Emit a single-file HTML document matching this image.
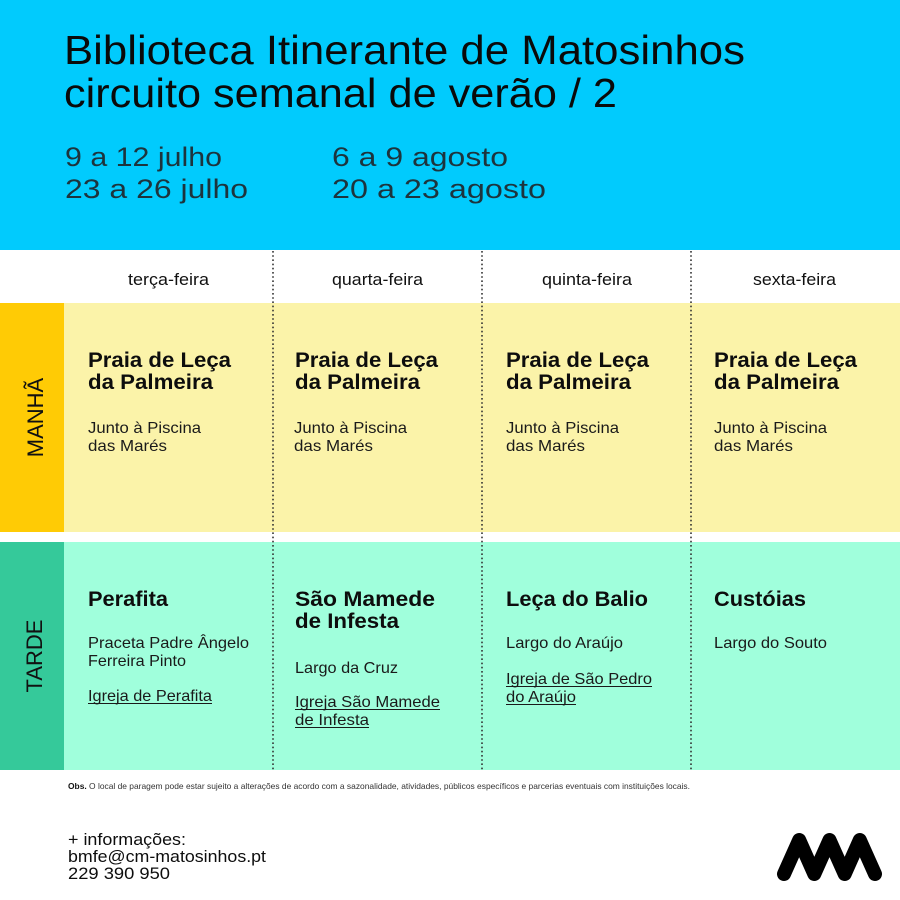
<!DOCTYPE html>
<html>
<head>
<meta charset="utf-8">
<style>
html,body{margin:0;padding:0;background:#fff;}
svg{display:block;}
text{font-family:"Liberation Sans",Arial,sans-serif;}
.t{font-size:40.5px;fill:#0a0a0a;}
.d{font-size:27px;fill:#1d343d;}
.day{font-size:17px;fill:#111;}
.h{font-size:21px;font-weight:bold;fill:#0d0d0d;}
.b{font-size:16px;fill:#1a1a1a;}
.side{font-size:22px;fill:#111;}
.c{font-size:17px;fill:#0d0d0d;}
</style>
</head>
<body>
<svg width="900" height="900" viewBox="0 0 900 900" xmlns="http://www.w3.org/2000/svg">
  <!-- backgrounds -->
  <rect x="0" y="0" width="900" height="250" fill="#01cbfd"/>
  <rect x="0" y="250" width="900" height="53" fill="#ffffff"/>
  <rect x="0" y="303" width="64" height="229" fill="#ffcb05"/>
  <rect x="64" y="303" width="836" height="229" fill="#fbf3a9"/>
  <rect x="0" y="542" width="64" height="228" fill="#35c99a"/>
  <rect x="64" y="542" width="836" height="228" fill="#a0ffdc"/>

  <!-- dotted separators -->
  <g stroke="#333" stroke-width="1.6" stroke-dasharray="1.6 2.6">
    <line x1="273" y1="251" x2="273" y2="770"/>
    <line x1="482" y1="251" x2="482" y2="770"/>
    <line x1="691" y1="251" x2="691" y2="770"/>
  </g>

  <!-- title -->
  <text class="t" x="64" y="64" textLength="681" lengthAdjust="spacingAndGlyphs">Biblioteca Itinerante de Matosinhos</text>
  <text class="t" x="64" y="107" textLength="553" lengthAdjust="spacingAndGlyphs">circuito semanal de verão / 2</text>

  <!-- dates -->
  <text class="d" x="65" y="166" textLength="157" lengthAdjust="spacingAndGlyphs">9 a 12 julho</text>
  <text class="d" x="65" y="198" textLength="183" lengthAdjust="spacingAndGlyphs">23 a 26 julho</text>
  <text class="d" x="332" y="166" textLength="176" lengthAdjust="spacingAndGlyphs">6 a 9 agosto</text>
  <text class="d" x="332" y="198" textLength="214" lengthAdjust="spacingAndGlyphs">20 a 23 agosto</text>

  <!-- day labels -->
  <text class="day" x="128" y="285" textLength="81" lengthAdjust="spacingAndGlyphs">terça-feira</text>
  <text class="day" x="332" y="285" textLength="91" lengthAdjust="spacingAndGlyphs">quarta-feira</text>
  <text class="day" x="542" y="285" textLength="90" lengthAdjust="spacingAndGlyphs">quinta-feira</text>
  <text class="day" x="753" y="285" textLength="83" lengthAdjust="spacingAndGlyphs">sexta-feira</text>

  <!-- side labels -->
  <text class="side" transform="translate(43,417.5) rotate(-90)" text-anchor="middle">MANHÃ</text>
  <text class="side" transform="translate(42,656) rotate(-90)" text-anchor="middle">TARDE</text>

  <!-- morning cells -->
  <g>
    <text class="h" x="88" y="367" textLength="143" lengthAdjust="spacingAndGlyphs">Praia de Leça</text>
    <text class="h" x="88" y="389" textLength="125" lengthAdjust="spacingAndGlyphs">da Palmeira</text>
    <text class="b" x="88" y="433" textLength="113" lengthAdjust="spacingAndGlyphs">Junto à Piscina</text>
    <text class="b" x="88" y="451" textLength="79" lengthAdjust="spacingAndGlyphs">das Marés</text>
  </g>
  <g>
    <text class="h" x="295" y="367" textLength="143" lengthAdjust="spacingAndGlyphs">Praia de Leça</text>
    <text class="h" x="295" y="389" textLength="125" lengthAdjust="spacingAndGlyphs">da Palmeira</text>
    <text class="b" x="294" y="433" textLength="113" lengthAdjust="spacingAndGlyphs">Junto à Piscina</text>
    <text class="b" x="294" y="451" textLength="79" lengthAdjust="spacingAndGlyphs">das Marés</text>
  </g>
  <g>
    <text class="h" x="506" y="367" textLength="143" lengthAdjust="spacingAndGlyphs">Praia de Leça</text>
    <text class="h" x="506" y="389" textLength="125" lengthAdjust="spacingAndGlyphs">da Palmeira</text>
    <text class="b" x="506" y="433" textLength="113" lengthAdjust="spacingAndGlyphs">Junto à Piscina</text>
    <text class="b" x="506" y="451" textLength="79" lengthAdjust="spacingAndGlyphs">das Marés</text>
  </g>
  <g>
    <text class="h" x="714" y="367" textLength="143" lengthAdjust="spacingAndGlyphs">Praia de Leça</text>
    <text class="h" x="714" y="389" textLength="125" lengthAdjust="spacingAndGlyphs">da Palmeira</text>
    <text class="b" x="714" y="433" textLength="113" lengthAdjust="spacingAndGlyphs">Junto à Piscina</text>
    <text class="b" x="714" y="451" textLength="79" lengthAdjust="spacingAndGlyphs">das Marés</text>
  </g>

  <!-- afternoon cells -->
  <g>
    <text class="h" x="88" y="606" textLength="80" lengthAdjust="spacingAndGlyphs">Perafita</text>
    <text class="b" x="88" y="648" textLength="161" lengthAdjust="spacingAndGlyphs">Praceta Padre Ângelo</text>
    <text class="b" x="88" y="666" textLength="98" lengthAdjust="spacingAndGlyphs">Ferreira Pinto</text>
    <text class="b" x="88" y="701" textLength="124" lengthAdjust="spacingAndGlyphs">Igreja de Perafita</text>
    <rect x="88" y="703" width="124" height="1" fill="#1a1a1a"/>
  </g>
  <g>
    <text class="h" x="295" y="606" textLength="140" lengthAdjust="spacingAndGlyphs">São Mamede</text>
    <text class="h" x="295" y="628" textLength="104" lengthAdjust="spacingAndGlyphs">de Infesta</text>
    <text class="b" x="295" y="673" textLength="103" lengthAdjust="spacingAndGlyphs">Largo da Cruz</text>
    <text class="b" x="295" y="707" textLength="145" lengthAdjust="spacingAndGlyphs">Igreja São Mamede</text>
    <rect x="295" y="709" width="145" height="1" fill="#1a1a1a"/>
    <text class="b" x="295" y="725" textLength="74" lengthAdjust="spacingAndGlyphs">de Infesta</text>
    <rect x="295" y="727" width="74" height="1" fill="#1a1a1a"/>
  </g>
  <g>
    <text class="h" x="506" y="606" textLength="142" lengthAdjust="spacingAndGlyphs">Leça do Balio</text>
    <text class="b" x="506" y="648" textLength="117" lengthAdjust="spacingAndGlyphs">Largo do Araújo</text>
    <text class="b" x="506" y="684" textLength="146" lengthAdjust="spacingAndGlyphs">Igreja de São Pedro</text>
    <rect x="506" y="686" width="146" height="1" fill="#1a1a1a"/>
    <text class="b" x="506" y="702" textLength="70" lengthAdjust="spacingAndGlyphs">do Araújo</text>
    <rect x="506" y="704" width="70" height="1" fill="#1a1a1a"/>
  </g>
  <g>
    <text class="h" x="714" y="606" textLength="92" lengthAdjust="spacingAndGlyphs">Custóias</text>
    <text class="b" x="714" y="648" textLength="113" lengthAdjust="spacingAndGlyphs">Largo do Souto</text>
  </g>

  <!-- obs -->
  <text x="68" y="789" font-size="8.5" fill="#333" textLength="622" lengthAdjust="spacingAndGlyphs"><tspan font-weight="bold" fill="#111">Obs.</tspan> O local de paragem pode estar sujeito a alterações de acordo com a sazonalidade, atividades, públicos específicos e parcerias eventuais com instituições locais.</text>

  <!-- contact -->
  <text class="c" x="68" y="845" textLength="118" lengthAdjust="spacingAndGlyphs">+ informações:</text>
  <text class="c" x="68" y="862" textLength="198" lengthAdjust="spacingAndGlyphs">bmfe@cm-matosinhos.pt</text>
  <text class="c" x="68" y="879" textLength="102" lengthAdjust="spacingAndGlyphs">229 390 950</text>

  <!-- logo -->
  <path d="M784 874 L799.2 840 L814.3 874 L829.5 840 L844.7 874 L859.8 840 L875 874" fill="none" stroke="#000" stroke-width="14" stroke-linecap="round" stroke-linejoin="round"/>
</svg>
</body>
</html>
